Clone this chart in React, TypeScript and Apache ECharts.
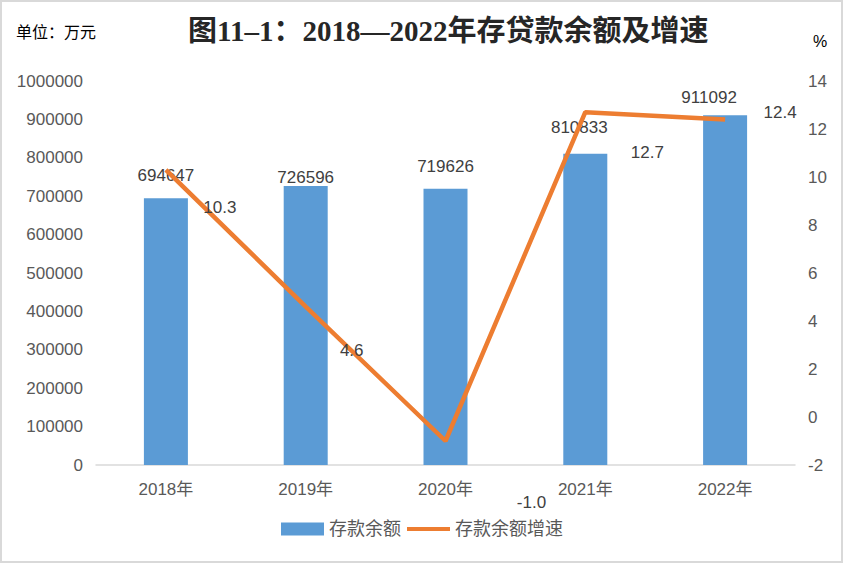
import React, { useEffect, useRef } from "react";
import * as echarts from "echarts";

const categories = ["2018年", "2019年", "2020年", "2021年", "2022年"];
const depositBalance = [694647, 726596, 719626, 810833, 911092];
const depositGrowth = [10.3, 4.6, -1.0, 12.7, 12.4];
const titleText = "图11–1：2018—2022年存贷款余额及增速";
const unitLeft = "单位：万元";
const unitRight = "%";

// label placement (layout only)
const barLabelOffsets = [[0, -14], [0, 0], [0, -14], [-6, -18], [-16, -9]];
const lineLabelOffsets = [[54, 38], [46, 44], [86, 61], [62, 40], [55, -7]];

const SANS = "Liberation Sans, 'Noto Sans CJK SC', sans-serif";

export default function App() {
  const ref = useRef<HTMLDivElement>(null);
  useEffect(() => {
    document.body.style.margin = "0";
    const chart = echarts.init(ref.current!, null, { renderer: "svg" });
    chart.setOption({
      animation: false,
      backgroundColor: "#ffffff",
      textStyle: { fontFamily: SANS },
      grid: { left: 96, right: 49, top: 81, bottom: 100 },
      title: {
        text: titleText,
        left: 183,
        top: 11,
        textStyle: {
          fontFamily: "'Liberation Serif', 'Noto Sans CJK SC', serif",
          fontWeight: "bold",
          fontSize: 29,
          color: "#262626",
        },
      },
      graphic: [
        {
          type: "rect",
          shape: { x: 1, y: 1, width: 841, height: 561 },
          style: { fill: "none", stroke: "#d9d9d9", lineWidth: 2 },
          silent: true,
        },
        {
          type: "text",
          left: 16,
          top: 24,
          style: { text: unitLeft, fontSize: 16, fill: "#000000", fontFamily: SANS },
        },
        {
          type: "text",
          left: 813,
          top: 33,
          style: { text: unitRight, fontSize: 16, fill: "#000000", fontFamily: SANS },
        },
      ],
      legend: {
        bottom: 22,
        left: "center",
        itemWidth: 43,
        itemHeight: 13,
        itemGap: 6,
        textStyle: { fontSize: 18, color: "#595959", fontFamily: SANS },
        data: [
          { name: "存款余额", icon: "rect" },
          { name: "存款余额增速", icon: "path://M0 0H45V4H0Z" },
        ],
      },
      xAxis: {
        type: "category",
        data: categories,
        axisLine: { lineStyle: { color: "#d9d9d9", width: 1.5 } },
        axisTick: { show: false },
        axisLabel: { color: "#595959", fontSize: 17, margin: 16, fontFamily: SANS },
      },
      yAxis: [
        {
          type: "value",
          min: 0,
          max: 1000000,
          interval: 100000,
          axisLine: { show: false },
          axisTick: { show: false },
          splitLine: { show: false },
          axisLabel: {
            color: "#595959",
            fontSize: 17,
            margin: 13,
            fontFamily: SANS,
            formatter: (v: number) => String(v),
          },
        },
        {
          type: "value",
          min: -2,
          max: 14,
          interval: 2,
          position: "right",
          axisLine: { show: false },
          axisTick: { show: false },
          splitLine: { show: false },
          axisLabel: { color: "#595959", fontSize: 17, margin: 13, fontFamily: SANS },
        },
      ],
      series: [
        {
          name: "存款余额",
          type: "bar",
          yAxisIndex: 0,
          barWidth: 44,
          itemStyle: { color: "#5b9bd5" },
          data: depositBalance.map((v, i) => ({
            value: v,
            label: {
              show: true,
              position: "top",
              distance: 0,
              offset: barLabelOffsets[i],
            },
          })),
          label: { color: "#404040", fontSize: 17, fontFamily: SANS },
        },
        {
          name: "存款余额增速",
          type: "line",
          yAxisIndex: 1,
          symbol: "circle",
          symbolSize: 0.1,
          showSymbol: true,
          itemStyle: { color: "#ed7d31" },
          lineStyle: { color: "#ed7d31", width: 4.5 },
          data: depositGrowth.map((v, i) => ({
            value: v,
            label: {
              show: true,
              position: "inside",
              offset: lineLabelOffsets[i],
              formatter: (p: any) => Number(p.value).toFixed(1),
            },
          })),
          label: { color: "#404040", fontSize: 17, fontFamily: SANS },
        },
      ],
    });
    return () => chart.dispose();
  }, []);
  return <div ref={ref} style={{ width: 844, height: 565 }} />;
}
